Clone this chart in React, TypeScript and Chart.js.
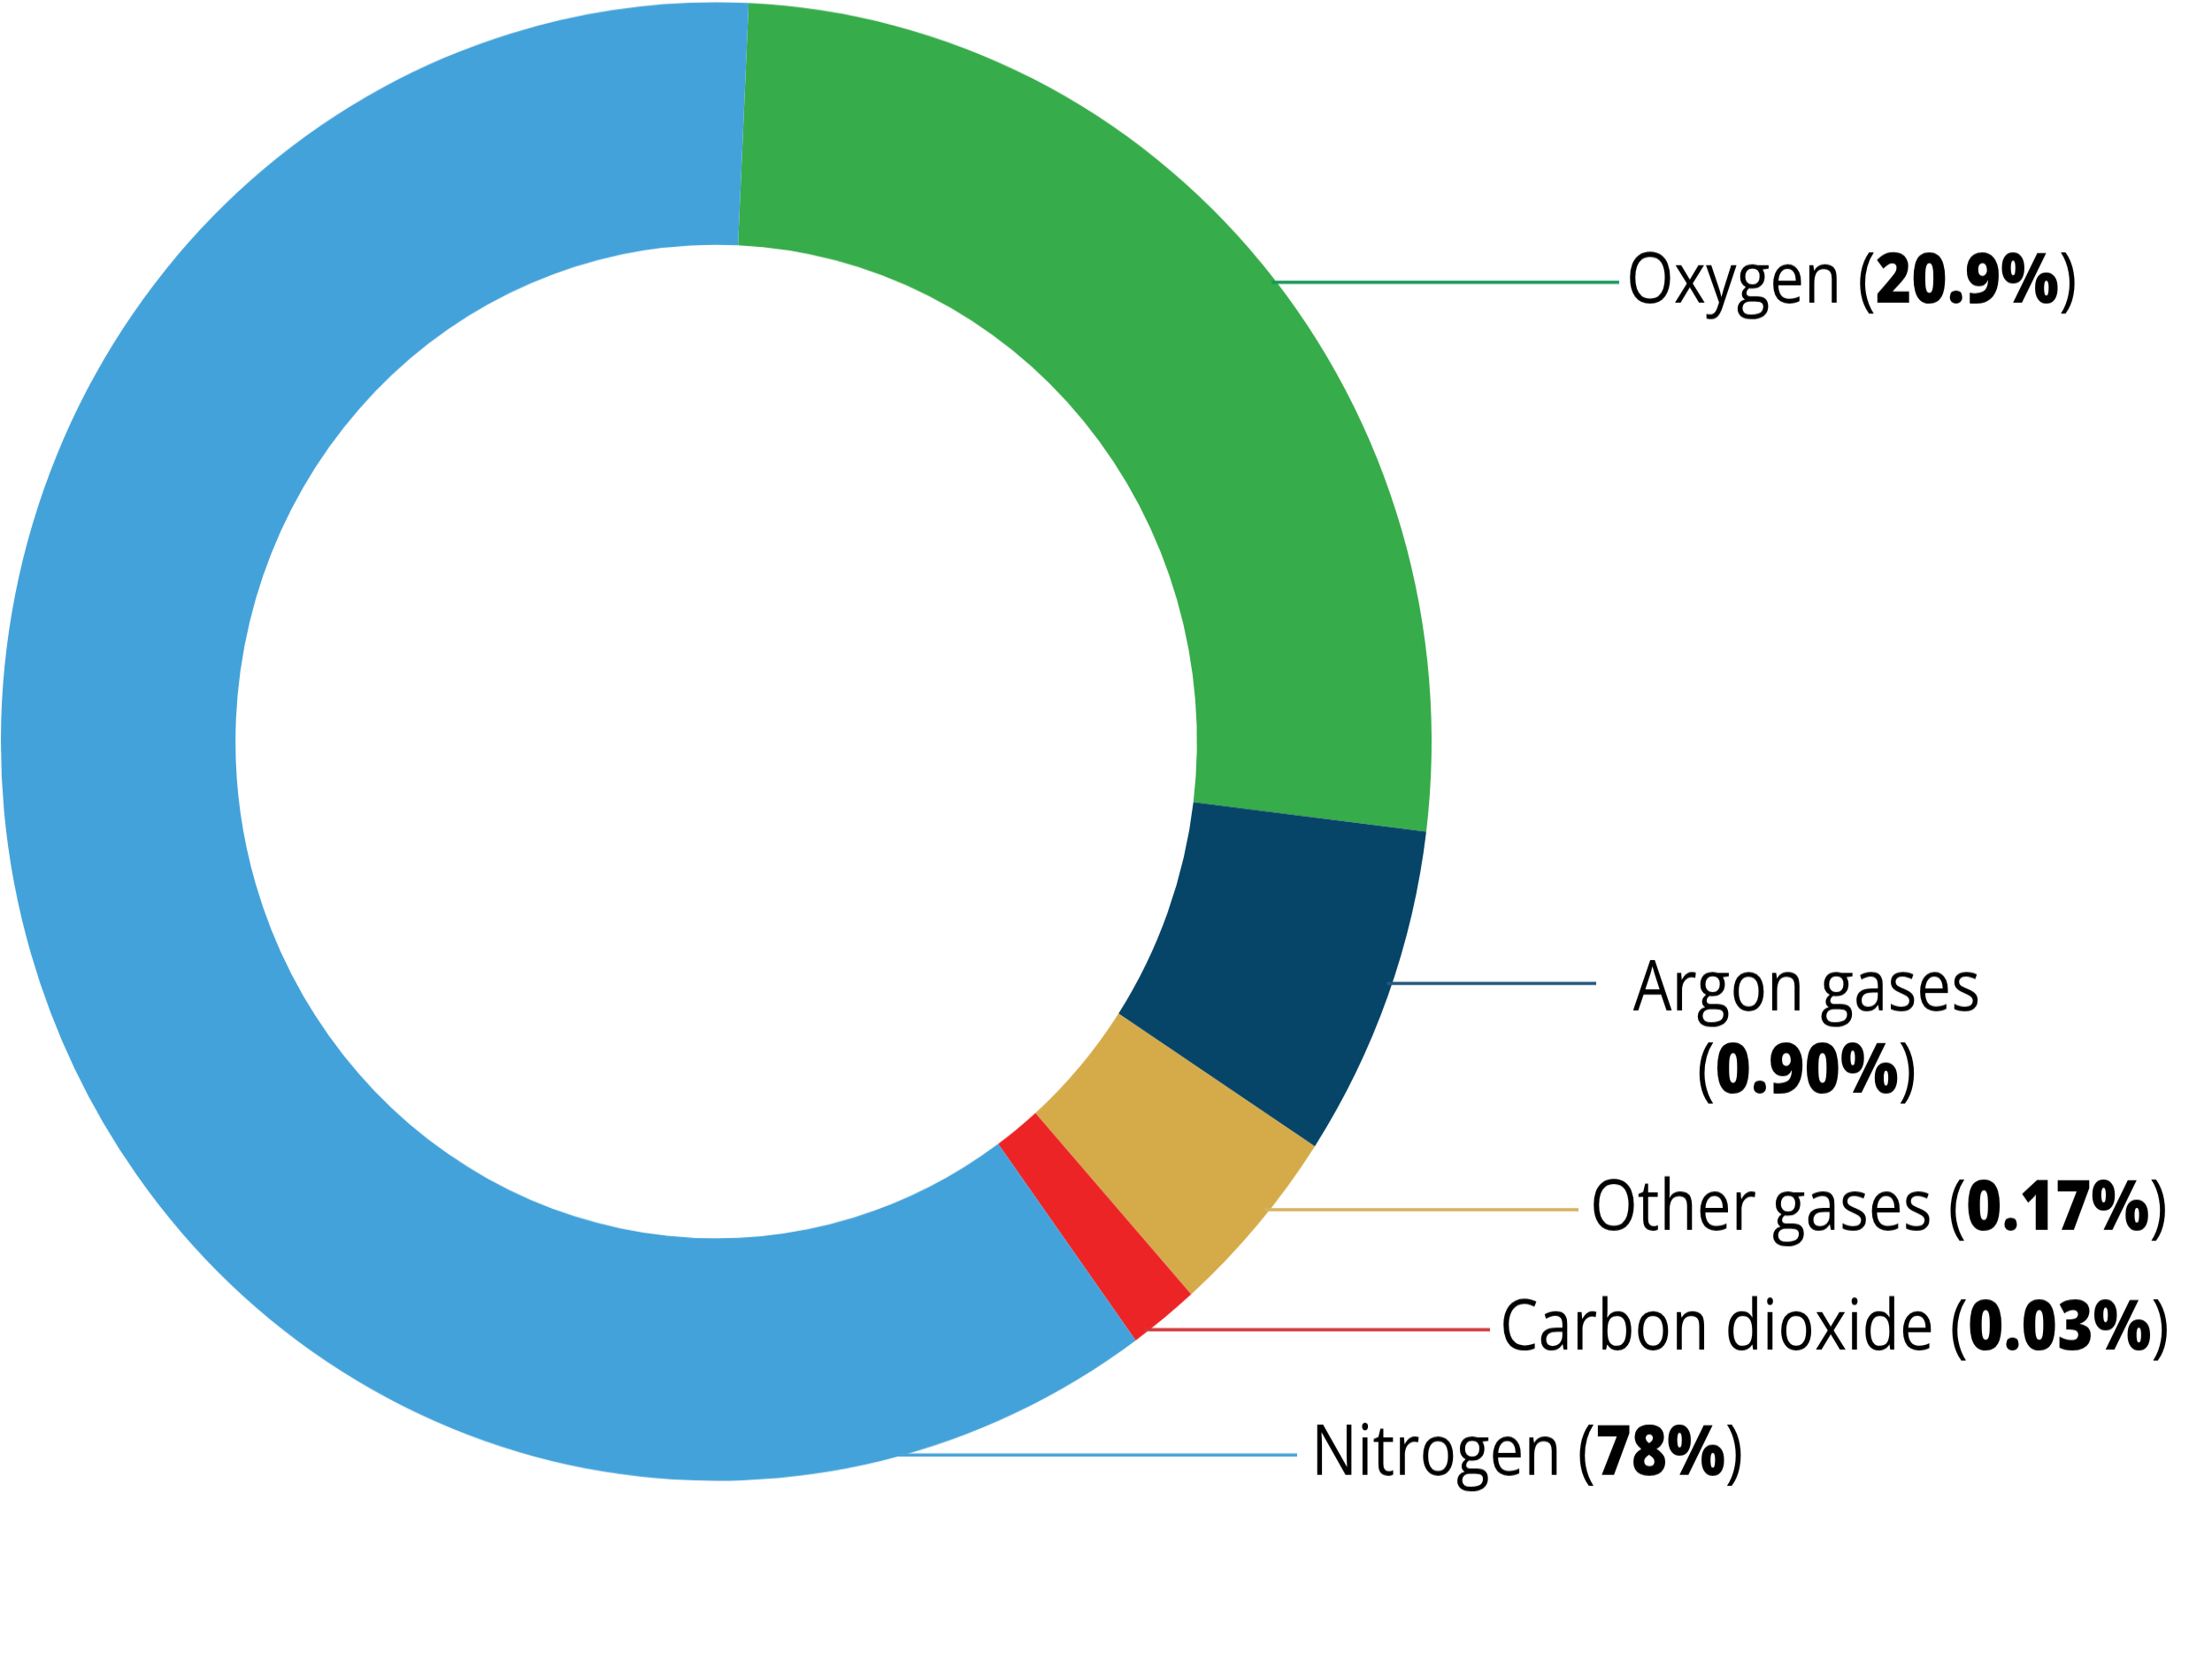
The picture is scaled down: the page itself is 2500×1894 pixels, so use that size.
import { useEffect, useRef } from "react";
import { Chart, ArcElement, DoughnutController } from "chart.js";

Chart.register(DoughnutController, ArcElement);

// ---- data ----
const gases = ["Oxygen", "Argon gases", "Other gases", "Carbon dioxide", "Nitrogen"];
const percentLabels = ["20.9%", "0.90%", "0.17%", "0.03%", "78%"];
// arc sizes (degrees) as they are drawn in the picture (the drawing is not to scale)
const arcDegrees = [94.4, 26.2, 15.2, 5.7, 218.5];
const sliceColors = ["#37AC4A", "#064567", "#D5AB4A", "#EC2426", "#44A2DA"];
const leaderColors = ["#17995A", "#24587D", "#D8B262", "#D2363A", "#4CA5D8"];

// ---- layout / style ----
const PAGE_W = 2500;
const PAGE_H = 1894;
const STRETCH_Y = 1.0334; // the reference ring is slightly taller than wide
const CANVAS_H = Math.round(PAGE_H / STRETCH_Y);
const FONT = '"Open Sans", "Noto Sans", sans-serif';
const FONT_SIZE = 76;
const TEXT_SCALE_X = 0.91;

// where each leader meets the ring (degrees clockwise from top), line end and text x (page px)
const leaderLayout = [
  { anchorDeg: 51.6, lineEndX: 1830, textX: 1838, stacked: false },
  { anchorDeg: 109.1, lineEndX: 1804, textX: 2042, stacked: true },
  { anchorDeg: 129.3, lineEndX: 1784, textX: 1797, stacked: false },
  { anchorDeg: 142.7, lineEndX: 1684, textX: 1695, stacked: false },
  { anchorDeg: 164.8, lineEndX: 1466, textX: 1482, stacked: false },
];

type Part = [string, boolean];

function drawParts(ctx: CanvasRenderingContext2D, parts: Part[], x: number, baseY: number, center: boolean) {
  const fontFor = (bold: boolean) => `${bold ? "800" : "400"} ${FONT_SIZE}px ${FONT}`;
  let total = 0;
  for (const [t, b] of parts) {
    ctx.font = fontFor(b);
    total += ctx.measureText(t).width;
  }
  ctx.save();
  const startX = center ? x - (total * TEXT_SCALE_X) / 2 : x;
  ctx.translate(startX, baseY);
  ctx.scale(TEXT_SCALE_X, 1);
  let cx = 0;
  for (const [t, b] of parts) {
    ctx.font = fontFor(b);
    ctx.fillText(t, cx, 0);
    cx += ctx.measureText(t).width;
  }
  ctx.restore();
}

const leaderPlugin = {
  id: "leaders",
  afterDatasetsDraw(chart: any) {
    const meta = chart.getDatasetMeta(0);
    const arc = meta.data[0];
    if (!arc) return;
    const { x, y, outerRadius } = arc.getProps(["x", "y", "outerRadius"], true);
    const ctx: CanvasRenderingContext2D = chart.ctx;
    ctx.save();
    ctx.textBaseline = "alphabetic";
    ctx.textAlign = "left";
    ctx.fillStyle = "#000000";
    gases.forEach((gas, i) => {
      const lay = leaderLayout[i];
      const th = (lay.anchorDeg * Math.PI) / 180;
      const px = x + outerRadius * Math.sin(th);
      const py = y - outerRadius * Math.cos(th);
      ctx.beginPath();
      ctx.strokeStyle = leaderColors[i];
      ctx.lineWidth = 3.5;
      ctx.moveTo(px - 6, py);
      ctx.lineTo(lay.lineEndX, py);
      ctx.stroke();
      const pct = percentLabels[i];
      if (lay.stacked) {
        drawParts(ctx, [[gas, false]], lay.textX, py + 30 / STRETCH_Y, true);
        drawParts(ctx, [["(", false], [pct, true], [")", false]], lay.textX, py + 123 / STRETCH_Y, true);
      } else {
        drawParts(ctx, [[gas + " (", false], [pct, true], [")", false]], lay.textX, py + 23 / STRETCH_Y, false);
      }
    });
    ctx.restore();
  },
};

export default function App() {
  const ref = useRef<HTMLCanvasElement | null>(null);
  useEffect(() => {
    if (!ref.current) return;
    const chart = new Chart(ref.current, {
      type: "doughnut",
      data: {
        labels: gases,
        datasets: [
          {
            data: arcDegrees,
            backgroundColor: sliceColors,
            borderWidth: 0,
            hoverOffset: 0,
          },
        ],
      },
      options: {
        responsive: false,
        animation: false,
        devicePixelRatio: 1,
        rotation: 2.6,
        circumference: 360,
        cutout: "67.2%",
        layout: { padding: { left: 1, top: 2.5, right: PAGE_W - 1618, bottom: CANVAS_H - 1619.5 } },
        plugins: { legend: { display: false }, tooltip: { enabled: false } },
        events: [],
      },
      plugins: [leaderPlugin],
    });
    return () => chart.destroy();
  }, []);
  return (
    <div style={{ position: "fixed", left: 0, top: 0, width: PAGE_W, height: PAGE_H, background: "#fff" }}>
      <canvas
        ref={ref}
        width={PAGE_W}
        height={CANVAS_H}
        style={{ display: "block", width: `${PAGE_W}px`, height: `${PAGE_H}px` }}
      />
    </div>
  );
}
